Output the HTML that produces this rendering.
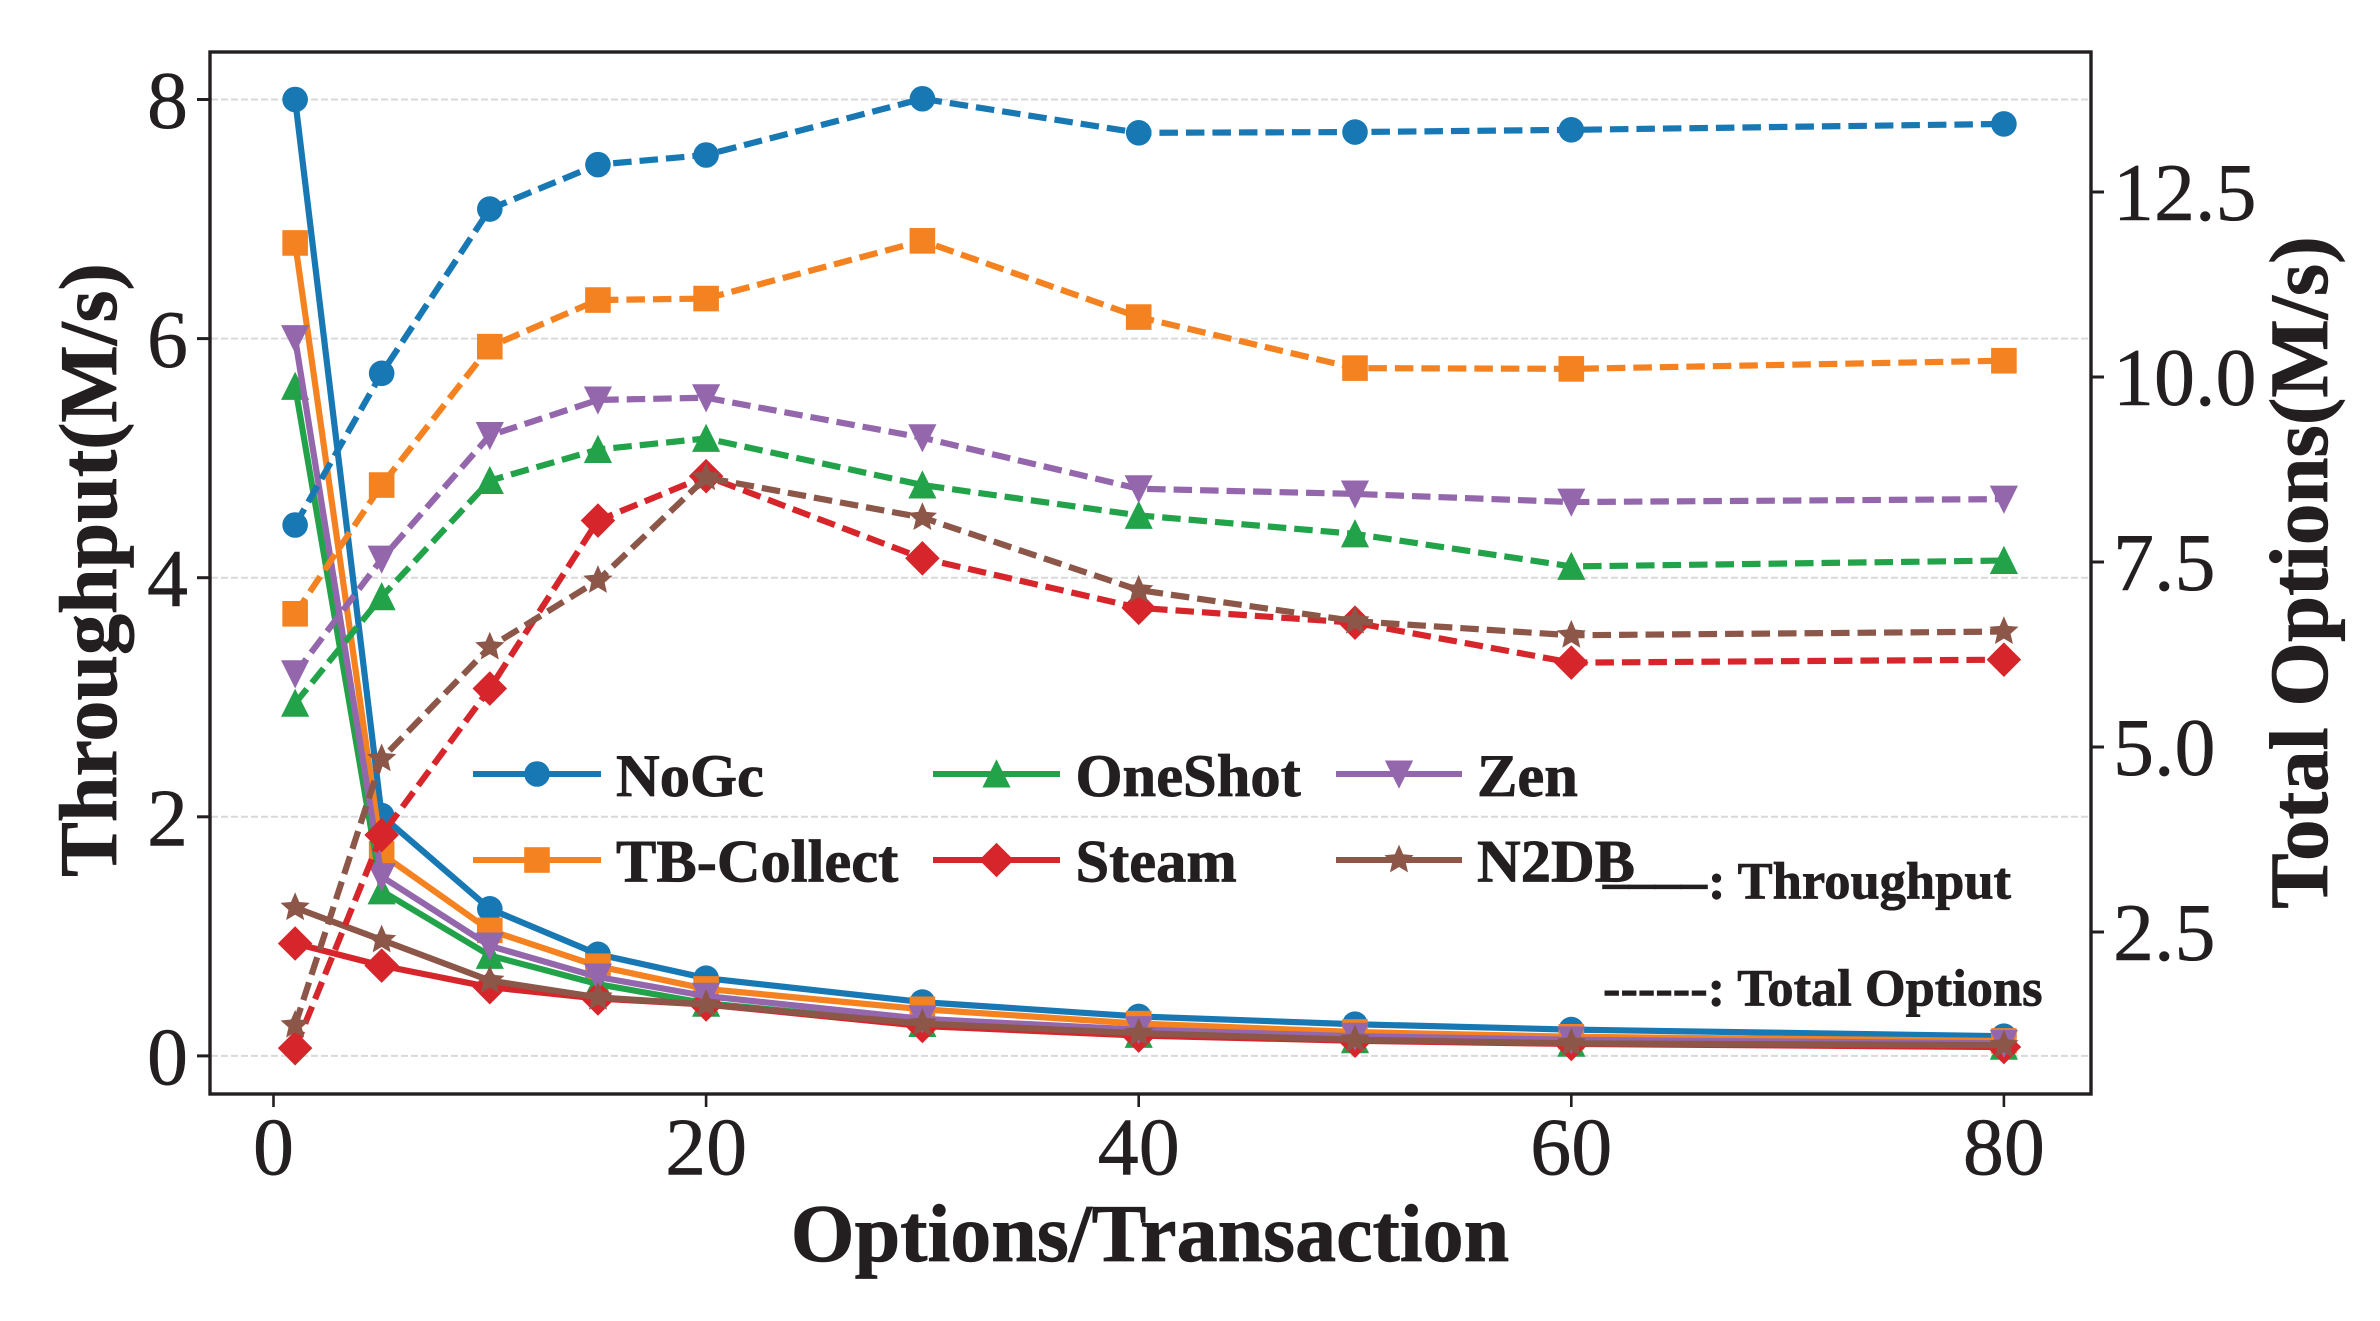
<!DOCTYPE html>
<html lang="en">
<head>
<meta charset="utf-8">
<title>Throughput and Total Options vs Options/Transaction</title>
<style>
html,body{margin:0;padding:0;background:#fff;}
svg{display:block;}
text{font-family:"Liberation Serif","Times New Roman",serif;fill:#231f20;stroke:#231f20;stroke-width:0.5px;text-rendering:geometricPrecision;}
.b{font-weight:bold;stroke-width:0.8px;}
</style>
</head>
<body>
<svg id="chart" xmlns="http://www.w3.org/2000/svg" width="2380" height="1321" viewBox="0 0 2380 1321">
  <rect x="0" y="0" width="2380" height="1321" fill="#ffffff"/>
  <g id="grid"></g>
  <g id="solid"></g>
  <g id="legend"></g>
  <g id="dashed"></g>
  <rect x="210" y="52" width="1881" height="1042" fill="none" stroke="#231f20" stroke-width="3.4"/>
  <g id="ticks"></g>
  <text class="b" x="1150" y="1261" font-size="82" text-anchor="middle">Options/Transaction</text>
  <text class="b" font-size="82" text-anchor="middle" transform="translate(116 570) rotate(-90)">Throughput(M/s)</text>
  <text class="b" font-size="83" text-anchor="middle" transform="translate(2327 572.5) rotate(-90)">Total Options(M/s)</text>
  <text class="b" x="1603" y="881.5" font-size="52">____</text>
  <text class="b" x="1708" y="898.5" font-size="52.5">: Throughput</text>
  <text class="b" x="1603" y="1005.5" font-size="52.4">------: Total Options</text>
</svg>
<script>
const categories = [1, 5, 10, 15, 20, 30, 40, 50, 60, 80];
const seriesNames = ["NoGc", "TB-Collect", "OneShot", "Steam", "Zen", "N2DB"];
const xTicks = [0, 20, 40, 60, 80];
const leftTicks = [0, 2, 4, 6, 8];
const rightTicks = ["2.5", "5.0", "7.5", "10.0", "12.5"];

const throughputNoGc = [8.0, 2.01, 1.23, 0.85, 0.65, 0.45, 0.33, 0.265, 0.22, 0.165];
const throughputTB = [6.8, 1.69, 1.05, 0.75, 0.56, 0.39, 0.27, 0.2, 0.16, 0.125];
const throughputOneShot = [5.6, 1.38, 0.84, 0.6, 0.44, 0.27, 0.18, 0.135, 0.105, 0.08];
const throughputSteam = [0.94, 0.755, 0.575, 0.48, 0.43, 0.25, 0.17, 0.127, 0.1, 0.074];
const throughputZen = [6.0, 1.5, 0.92, 0.66, 0.5, 0.31, 0.22, 0.165, 0.135, 0.105];
const throughputN2DB = [1.24, 0.97, 0.63, 0.49, 0.43, 0.27, 0.19, 0.135, 0.105, 0.09];

const optionsNoGc = [8.0, 10.05, 12.27, 12.87, 13.0, 13.76, 13.3, 13.31, 13.34, 13.42];
const optionsTB = [6.8, 8.54, 10.41, 11.04, 11.06, 11.84, 10.81, 10.12, 10.11, 10.22];
const optionsOneShot = [5.59, 7.03, 8.6, 9.02, 9.17, 8.54, 8.13, 7.88, 7.44, 7.52];
const optionsSteam = [0.93, 3.81, 5.79, 8.06, 8.66, 7.55, 6.88, 6.68, 6.14, 6.18];
const optionsZen = [5.99, 7.54, 9.21, 9.69, 9.72, 9.18, 8.49, 8.42, 8.31, 8.35];
const optionsN2DB = [1.24, 4.84, 6.35, 7.25, 8.64, 8.1, 7.12, 6.7, 6.51, 6.56];

const throughputSeries = [throughputNoGc, throughputTB, throughputOneShot, throughputSteam, throughputZen, throughputN2DB];
const optionsSeries = [optionsNoGc, optionsTB, optionsOneShot, optionsSteam, optionsZen, optionsN2DB];

const colors = ["#1878b4", "#f58220", "#22a34a", "#d7262b", "#9467ac", "#8c5648"];
const markers = ["circle", "square", "up", "diamond", "down", "star"];

const NS = "http://www.w3.org/2000/svg";
function xScale(v) { return 273.5 + v * 21.63; }
function yLeft(v) { return 1055.9 - v * 119.55; }
function yRight(v) { return 932 - (v - 2.5) * 74; }

function make(parent, tag, attrs) {
  const el = document.createElementNS(NS, tag);
  for (const k in attrs) el.setAttribute(k, attrs[k]);
  parent.appendChild(el);
  return el;
}

function drawMarker(parent, kind, cx, cy, color, scale) {
  const s = 12.8 * scale;
  let el;
  if (kind === "circle") {
    el = make(parent, "circle", { cx: cx, cy: cy, r: s, fill: color });
  } else if (kind === "square") {
    el = make(parent, "rect", { x: cx - s, y: cy - s, width: 2 * s, height: 2 * s, fill: color });
  } else {
    let pts = [];
    if (kind === "up") pts = [[0, -s * 1.15], [s * 1.1, s * 1.05], [-s * 1.1, s * 1.05]];
    if (kind === "down") pts = [[0, s * 1.15], [s * 1.1, -s * 1.05], [-s * 1.1, -s * 1.05]];
    if (kind === "diamond") pts = [[0, -s * 1.35], [s * 1.35, 0], [0, s * 1.35], [-s * 1.35, 0]];
    if (kind === "star") {
      for (let i = 0; i < 10; i++) {
        const r = (i % 2 === 0 ? s * 1.2 : s * 0.55);
        const a = -Math.PI / 2 + i * Math.PI / 5;
        pts.push([r * Math.cos(a), r * Math.sin(a)]);
      }
    }
    el = make(parent, "polygon", {
      points: pts.map(function (p) { return (cx + p[0]).toFixed(2) + "," + (cy + p[1]).toFixed(2); }).join(" "),
      fill: color
    });
  }
  
  
}

function drawSeries(parentId, values, yFn, idx, dashed) {
  const parent = document.getElementById(parentId);
  const g = make(parent, "g", {});
  
  
  const pts = categories.map(function (c, i) { return xScale(c).toFixed(2) + "," + yFn(values[i]).toFixed(2); }).join(" ");
  const attrs = { points: pts, fill: "none", stroke: colors[idx], "stroke-width": 6.2, "stroke-linejoin": "round" };
  if (dashed) attrs["stroke-dasharray"] = "18.5 8";
  const line = make(g, "polyline", attrs);
  
  
  categories.forEach(function (c, i) {
    drawMarker(g, markers[idx], xScale(c), yFn(values[i]), colors[idx], 1);
  });
}

// grid lines
const gridG = document.getElementById("grid");
leftTicks.forEach(function (t) {
  const l = make(gridG, "line", { x1: 211, x2: 2090, y1: yLeft(t), y2: yLeft(t), stroke: "#d9d9d9", "stroke-width": 2, "stroke-dasharray": "7 3" });
  
  
});

// series
throughputSeries.forEach(function (vals, i) { drawSeries("solid", vals, yLeft, i, false); });
optionsSeries.forEach(function (vals, i) { drawSeries("dashed", vals, yRight, i, true); });

// ticks and tick labels
const tickG = document.getElementById("ticks");
xTicks.forEach(function (t) {
  const x = xScale(t);
  const m = make(tickG, "line", { x1: x, x2: x, y1: 1094, y2: 1107, stroke: "#231f20", "stroke-width": 2.6 });
  
  
  const lab = make(tickG, "text", { x: x, y: 1174.5, "font-size": 82, "text-anchor": "middle" });
  lab.textContent = String(t);
  
  
});
leftTicks.forEach(function (t) {
  const y = yLeft(t);
  const m = make(tickG, "line", { x1: 197, x2: 210, y1: y, y2: y, stroke: "#231f20", "stroke-width": 3 });
  
  
  const lab = make(tickG, "text", { x: 188, y: y + 28.5, "font-size": 82, "text-anchor": "end" });
  lab.textContent = String(t);
  
  
});
rightTicks.forEach(function (t) {
  const y = yRight(parseFloat(t));
  const m = make(tickG, "line", { x1: 2091, x2: 2104, y1: y, y2: y, stroke: "#231f20", "stroke-width": 3 });
  
  
  const lab = make(tickG, "text", { x: 2113, y: y + 28, "font-size": 82 });
  lab.textContent = t;
  
  
});

// legend
const legendG = document.getElementById("legend");
const legendColumns = [0, 0, 1, 1, 2, 2];
const legendRows = [0, 1, 0, 1, 0, 1];
const colLineStart = [473, 933, 1336];
const colLineEnd = [601, 1060, 1462];
const colTextX = [616, 1075.5, 1477];
const rowLineY = [774, 860];
const rowTextY = [796, 881.5];
seriesNames.forEach(function (name, i) {
  const c = legendColumns[i];
  const r = legendRows[i];
  const e = make(legendG, "g", {});
  
  
  const l = make(e, "line", { x1: colLineStart[c], x2: colLineEnd[c], y1: rowLineY[r], y2: rowLineY[r], stroke: colors[i], "stroke-width": 6 });
  
  
  drawMarker(e, markers[i], (colLineStart[c] + colLineEnd[c]) / 2, rowLineY[r], colors[i], 1);
  const t = make(e, "text", { x: colTextX[c], y: rowTextY[r], "font-size": 60.5, "class": "b" });
  t.textContent = name;
  
  
});
</script>
</body>
</html>
